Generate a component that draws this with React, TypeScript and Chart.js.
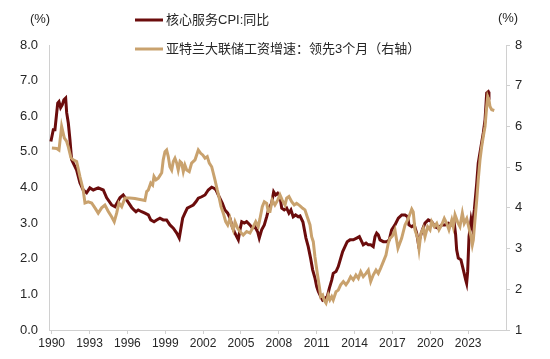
import React, { useEffect, useRef } from 'react';
import { Chart, registerables } from 'chart.js';

Chart.register(...registerables);

// X-axis tick labels (years)
const xTickYears = [1990, 1993, 1996, 1999, 2002, 2005, 2008, 2011, 2014, 2017, 2020, 2023];

// Series 1: 核心服务CPI:同比 (left axis, %)
const coreServiceX = [
  1989.94, 1990.13, 1990.26, 1990.48, 1990.58, 1990.71, 1990.84, 1990.97, 1991.11, 1991.19,
  1991.32, 1991.45, 1991.58, 1991.79, 1991.98, 1992.24, 1992.50, 1992.77, 1993.03, 1993.30,
  1993.69, 1994.09, 1994.36, 1994.75, 1995.02, 1995.41, 1995.67, 1995.94, 1996.34, 1996.52,
  1996.68, 1996.86, 1997.13, 1997.39, 1997.66, 1997.85, 1998.11, 1998.32, 1998.58, 1998.84,
  1999.11, 1999.37, 1999.64, 1999.91, 2000.11, 2000.22, 2000.38, 2000.56, 2000.75, 2000.96,
  2001.22, 2001.43, 2001.62, 2001.89, 2002.15, 2002.41, 2002.68, 2002.86, 2003.02, 2003.20,
  2003.52, 2003.73, 2003.95, 2004.13, 2004.31, 2004.47, 2004.66, 2004.79, 2004.92, 2005.06,
  2005.26, 2005.45, 2005.71, 2005.90, 2006.11, 2006.32, 2006.45, 2006.64, 2006.85, 2007.04,
  2007.22, 2007.43, 2007.59, 2007.75, 2007.91, 2008.09, 2008.23, 2008.43, 2008.62, 2008.80,
  2008.96, 2009.14, 2009.33, 2009.54, 2009.68, 2009.91, 2010.15, 2010.33, 2010.52, 2010.68,
  2010.87, 2011.00, 2011.13, 2011.32, 2011.47, 2011.66, 2011.84, 2012.00, 2012.19, 2012.31,
  2012.53, 2012.71, 2012.90, 2013.06, 2013.24, 2013.42, 2013.64, 2013.90, 2014.17, 2014.38,
  2014.57, 2014.69, 2014.91, 2015.09, 2015.28, 2015.48, 2015.62, 2015.75, 2015.88, 2016.02,
  2016.28, 2016.55, 2016.75, 2016.94, 2017.20, 2017.47, 2017.74, 2018.00, 2018.21, 2018.31,
  2018.53, 2018.73, 2018.92, 2019.05, 2019.18, 2019.37, 2019.58, 2019.84, 2020.11, 2020.37,
  2020.63, 2020.90, 2021.17, 2021.43, 2021.70, 2021.90, 2022.01, 2022.09, 2022.22, 2022.43,
  2022.62, 2022.81, 2022.88, 2022.96, 2023.07, 2023.23, 2023.33, 2023.49, 2023.68, 2023.80,
  2024.02, 2024.20, 2024.34, 2024.47, 2024.60, 2024.65,
];
const coreServiceValues = [
  5.29, 5.62, 5.62, 6.37, 6.41, 6.24, 6.32, 6.46, 6.51, 6.10,
  5.81, 5.34, 4.78, 4.63, 4.49, 4.13, 3.93, 3.85, 3.99, 3.93,
  3.99, 3.93, 3.71, 3.51, 3.46, 3.71, 3.79, 3.65, 3.44, 3.37,
  3.32, 3.37, 3.32, 3.28, 3.23, 3.09, 3.04, 3.09, 3.14, 3.09,
  3.09, 2.95, 2.86, 2.72, 2.58, 2.81, 3.14, 3.28, 3.42, 3.46,
  3.51, 3.60, 3.70, 3.74, 3.79, 3.93, 4.01, 3.98, 3.93, 3.79,
  3.56, 3.37, 3.28, 3.14, 2.90, 2.76, 2.62, 2.53, 2.81, 3.04,
  3.00, 3.04, 2.95, 2.86, 2.90, 2.76, 2.58, 2.81, 2.95, 3.18,
  3.42, 3.56, 3.88, 3.79, 3.84, 3.74, 3.42, 3.37, 3.42, 3.28,
  3.37, 3.18, 3.23, 3.18, 3.20, 3.03, 2.58, 2.34, 2.01, 1.69,
  1.45, 1.22, 1.08, 0.94, 0.84, 0.89, 0.94, 1.17, 1.40, 1.59,
  1.64, 1.78, 2.01, 2.20, 2.34, 2.48, 2.53, 2.53, 2.58, 2.62,
  2.48, 2.39, 2.44, 2.39, 2.39, 2.34, 2.62, 2.72, 2.67, 2.53,
  2.48, 2.48, 2.53, 2.81, 2.95, 3.14, 3.23, 3.23, 3.18, 2.95,
  2.90, 2.95, 2.72, 2.44, 2.58, 2.81, 3.00, 3.09, 3.04, 2.90,
  2.86, 2.95, 2.95, 3.00, 2.95, 3.00, 2.67, 2.25, 2.02, 1.97,
  1.69, 1.40, 1.31, 1.63, 2.62, 3.09, 2.90, 3.37, 4.12, 4.68,
  5.15, 5.53, 5.90, 6.65, 6.69, 6.65,
];

// Series 2: 亚特兰大联储工资增速：领先3个月 (right axis, %)
const wageX = [
  1990.02, 1990.40, 1990.58, 1990.79, 1991.00, 1991.19, 1991.32, 1991.53, 1991.71, 1991.98,
  1992.24, 1992.50, 1992.64, 1992.90, 1993.17, 1993.43, 1993.69, 1993.96, 1994.22, 1994.49,
  1994.75, 1994.96, 1995.15, 1995.33, 1995.55, 1995.81, 1996.20, 1996.60, 1997.39, 1997.53,
  1997.66, 1997.85, 1998.00, 1998.11, 1998.27, 1998.45, 1998.72, 1998.84, 1998.98, 1999.11,
  1999.24, 1999.37, 1999.51, 1999.64, 1999.77, 1999.91, 2000.03, 2000.17, 2000.30, 2000.43,
  2000.56, 2000.70, 2000.90, 2001.09, 2001.36, 2001.62, 2001.81, 2001.97, 2002.15, 2002.33,
  2002.49, 2002.68, 2002.81, 2002.94, 2003.12, 2003.28, 2003.42, 2003.60, 2003.79, 2003.95,
  2004.13, 2004.26, 2004.39, 2004.53, 2004.74, 2004.92, 2005.18, 2005.45, 2005.71, 2005.98,
  2006.17, 2006.37, 2006.51, 2006.69, 2006.85, 2007.04, 2007.16, 2007.30, 2007.48, 2007.69,
  2007.91, 2008.09, 2008.27, 2008.49, 2008.62, 2008.80, 2009.02, 2009.22, 2009.41, 2009.68,
  2009.89, 2010.07, 2010.25, 2010.47, 2010.60, 2010.73, 2010.86, 2011.05, 2011.21, 2011.32,
  2011.47, 2011.58, 2011.74, 2011.92, 2012.05, 2012.19, 2012.31, 2012.53, 2012.71, 2012.90,
  2013.11, 2013.32, 2013.50, 2013.69, 2013.90, 2014.11, 2014.30, 2014.49, 2014.69, 2014.91,
  2015.09, 2015.28, 2015.48, 2015.70, 2015.88, 2016.07, 2016.28, 2016.49, 2016.67, 2016.81,
  2017.00, 2017.20, 2017.44, 2017.73, 2018.00, 2018.26, 2018.53, 2018.65, 2018.79, 2019.00,
  2019.11, 2019.26, 2019.45, 2019.58, 2019.79, 2019.98, 2020.11, 2020.32, 2020.51, 2020.69,
  2020.90, 2021.11, 2021.30, 2021.48, 2021.70, 2021.82, 2021.96, 2022.17, 2022.35, 2022.54,
  2022.69, 2022.89, 2023.07, 2023.23, 2023.33, 2023.41, 2023.54, 2023.68, 2023.80, 2023.94,
  2024.07, 2024.20, 2024.34, 2024.47, 2024.55, 2024.65, 2024.73, 2024.87, 2025.07,
];
const wageValues = [
  5.47, 5.46, 5.42, 6.00, 5.72, 5.63, 5.50, 5.23, 5.18, 5.14,
  4.77, 4.44, 4.12, 4.15, 4.12, 4.00, 3.87, 4.00, 4.07, 3.91,
  3.78, 3.66, 3.87, 4.12, 4.03, 4.24, 4.24, 4.23, 4.18, 4.40,
  4.44, 4.61, 4.56, 4.77, 4.69, 4.73, 4.86, 5.18, 5.38, 5.42,
  5.26, 5.01, 4.93, 5.14, 5.22, 5.10, 4.93, 5.14, 5.10, 4.89,
  5.05, 4.93, 4.89, 5.10, 5.18, 5.42, 5.34, 5.30, 5.22, 5.26,
  5.10, 5.01, 4.85, 4.69, 4.44, 4.24, 4.03, 3.87, 3.66, 3.58,
  3.74, 3.58, 3.46, 3.66, 3.50, 3.42, 3.33, 3.42, 3.38, 3.54,
  3.66, 3.54, 3.74, 4.03, 4.15, 4.11, 3.91, 3.91, 4.19, 4.07,
  4.19, 4.32, 4.19, 4.07, 4.24, 4.28, 4.15, 4.07, 4.11, 4.05,
  3.99, 3.95, 3.78, 3.58, 3.29, 3.17, 2.80, 2.39, 2.06, 1.82,
  1.86, 1.74, 1.66, 1.86, 1.74, 1.82, 1.74, 1.94, 1.98, 2.11,
  2.19, 2.11, 2.19, 2.31, 2.23, 2.35, 2.27, 2.43, 2.31, 2.39,
  2.47, 2.19, 2.35, 2.47, 2.39, 2.52, 2.68, 2.84, 3.13, 3.25,
  3.31, 3.46, 3.01, 3.25, 3.58, 3.74, 3.97, 3.90, 3.46, 3.26,
  2.99, 3.38, 3.50, 3.29, 3.54, 3.46, 3.66, 3.54, 3.62, 3.46,
  3.58, 3.74, 3.62, 3.46, 3.70, 3.54, 3.83, 3.65, 3.54, 3.87,
  3.62, 3.74, 3.50, 3.29, 3.09, 3.21, 3.70, 4.19, 4.69, 5.18,
  5.50, 5.75, 6.00, 6.49, 6.73, 6.65, 6.49, 6.41, 6.39,
];

const seriesNames = ['核心服务CPI:同比', '亚特兰大联储工资增速：领先3个月（右轴）'];
const seriesColors = ['#6b0c0c', '#c9a26e'];
const unitLabel = '(%)';

const FONT = '"Liberation Sans", Arial, "Noto Sans CJK SC", sans-serif';
const TEXT_COLOR = '#262626';
const AXIS_COLOR = '#d0d0d0';

const overlayPlugin = {
  id: 'overlayText',
  afterDraw(chart: any) {
    const ctx = chart.ctx;
    ctx.save();
    ctx.font = `13px ${FONT}`;
    ctx.fillStyle = TEXT_COLOR;
    ctx.textBaseline = 'middle';
    ctx.textAlign = 'center';
    ctx.fillText(unitLabel, 40, 19);
    ctx.fillText(unitLabel, 508, 18);
    const rows = [20, 49];
    rows.forEach((y, i) => {
      ctx.strokeStyle = seriesColors[i];
      ctx.lineWidth = 3;
      ctx.beginPath();
      ctx.moveTo(135, y);
      ctx.lineTo(163, y);
      ctx.stroke();
      ctx.textAlign = 'left';
      ctx.fillStyle = TEXT_COLOR;
      ctx.fillText(seriesNames[i], 166, y);
    });
    ctx.restore();
  },
};

export default function App() {
  const canvasRef = useRef<HTMLCanvasElement | null>(null);

  useEffect(() => {
    if (!canvasRef.current) return;
    const chart = new Chart(canvasRef.current, {
      type: 'line',
      data: {
        datasets: [
          {
            label: seriesNames[0],
            data: coreServiceX.map((x, i) => ({ x, y: coreServiceValues[i] })),
            borderColor: seriesColors[0],
            backgroundColor: seriesColors[0],
            borderWidth: 3,
            pointRadius: 0,
            tension: 0,
            yAxisID: 'y',
            order: 1,
          },
          {
            label: seriesNames[1],
            data: wageX.map((x, i) => ({ x, y: wageValues[i] })),
            borderColor: seriesColors[1],
            backgroundColor: seriesColors[1],
            borderWidth: 3,
            pointRadius: 0,
            tension: 0,
            yAxisID: 'y1',
            order: 0,
          },
        ],
      },
      options: {
        animation: false,
        responsive: false,
        devicePixelRatio: 1,
        layout: { padding: { top: 45, left: 0, right: 0, bottom: 0 } },
        plugins: {
          legend: { display: false },
          tooltip: { enabled: false },
        },
        scales: {
          x: {
            type: 'linear',
            min: 1989.79,
            max: 2026.0,
            afterBuildTicks: (scale: any) => {
              scale.ticks = xTickYears.map((v) => ({ value: v }));
            },
            afterFit: (scale: any) => {
              scale.height = 29;
            },
            ticks: {
              autoSkip: false,
              maxRotation: 0,
              padding: 2,
              color: TEXT_COLOR,
              font: { family: FONT, size: 12 },
              callback: (v: any) => String(v),
            },
            grid: { drawOnChartArea: false, drawTicks: true, tickLength: 4, color: AXIS_COLOR },
            border: { color: AXIS_COLOR },
          },
          y: {
            position: 'left',
            min: 0,
            max: 8,
            afterFit: (scale: any) => {
              scale.width = 49;
            },
            ticks: {
              stepSize: 1,
              padding: 11,
              color: TEXT_COLOR,
              font: { family: FONT, size: 13 },
              callback: (v: any) => Number(v).toFixed(1),
            },
            grid: { drawOnChartArea: false, drawTicks: false },
            border: { color: AXIS_COLOR },
          },
          y1: {
            position: 'right',
            min: 1,
            max: 8,
            afterFit: (scale: any) => {
              scale.width = 44;
            },
            ticks: {
              stepSize: 1,
              padding: 5,
              color: TEXT_COLOR,
              font: { family: FONT, size: 13 },
              callback: (v: any) => String(v),
            },
            grid: { drawOnChartArea: false, drawTicks: true, tickLength: 4, color: AXIS_COLOR },
            border: { color: AXIS_COLOR },
          },
        },
      },
      plugins: [overlayPlugin],
    } as any);
    return () => chart.destroy();
  }, []);

  return (
    <div style={{ position: 'fixed', left: 0, top: 0, width: 550, height: 359, background: '#fff' }}>
      <canvas ref={canvasRef} width={550} height={359} />
    </div>
  );
}
